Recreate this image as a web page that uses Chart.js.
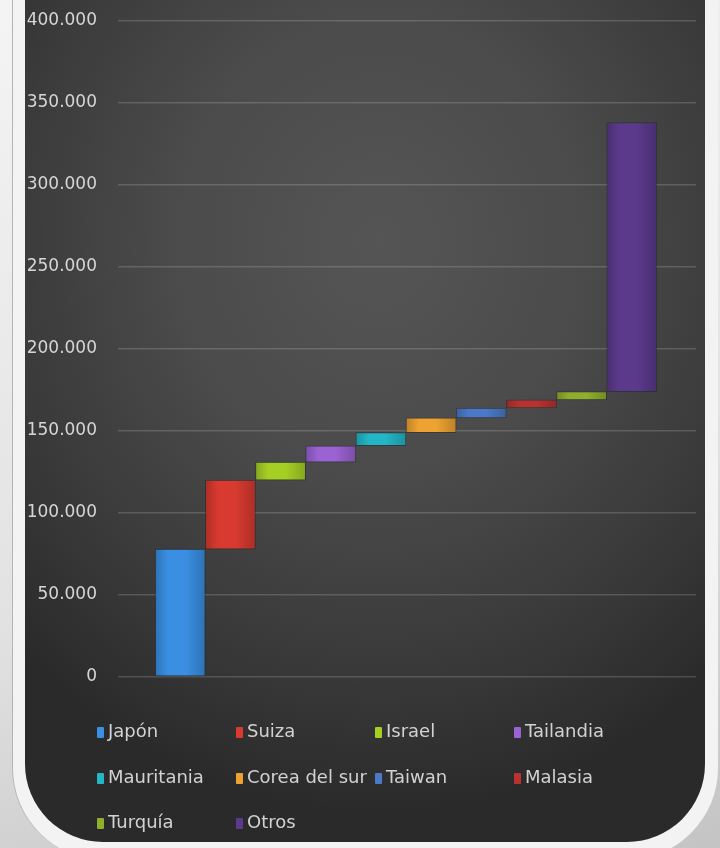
<!DOCTYPE html>
<html>
<head>
<meta charset="utf-8">
<script src="https://cdn.jsdelivr.net/npm/chart.js@4.4.1/dist/chart.umd.min.js"></script>
<style>
  html, body { margin: 0; padding: 0; }
  body {
    width: 720px; height: 848px; position: relative; overflow: hidden;
    background: linear-gradient(165deg, #f4f4f4 0%, #e2e2e2 60%, #c4c4c4 100%);
    font-family: "DejaVu Sans", sans-serif;
  }
  #marco {
    position: absolute; left: 12px; right: 2px; top: -40px; bottom: -12px;
    background: #f3f3f3;
    border-left: 1px solid #b4b4b4;
    border-radius: 0 0 92px 92px;
  }
  #panel {
    position: absolute; left: 25px; right: 15px; top: -40px; bottom: 6px;
    border-radius: 0 0 78px 78px;
    background: radial-gradient(ellipse 75% 65% at 52% 32%, #555 0%, #4b4b4b 40%, #393939 75%, #2a2a2a 100%);
  }
  #grafica { position: absolute; left: 0; top: 0; }
  #leyenda {
    position: absolute; left: 97px; top: 708px;
    display: grid; grid-template-columns: repeat(4, 139px); grid-auto-rows: 45.5px;
    align-items: center;
  }
  #leyenda div { white-space: nowrap; color: #d2d2d2; font-size: 18px; }
  #leyenda span.marca {
    display: inline-block; width: 7px; height: 11px; margin-right: 4px;
    vertical-align: -1px; border-radius: 1px;
  }
</style>
</head>
<body>
<div id="marco"></div>
<div id="panel"></div>
<canvas id="grafica" width="720" height="848"></canvas>
<div id="leyenda"></div>
<script>
(function() {

  const paises = ['Japón', 'Suiza', 'Israel', 'Tailandia', 'Mauritania', 'Corea del sur', 'Taiwan', 'Malasia', 'Turquía', 'Otros'];
  const valores = [78000, 42000, 11000, 10000, 8000, 9000, 6000, 5000, 5000, 164000];
  const colores = ['#3a8fe3', '#d83a2f', '#a6cf24', '#9a62d2', '#22b6c6', '#eea232', '#4a79c9', '#b8322f', '#8fae2e', '#5b3a8c'];
  const marcasY = [0, 50000, 100000, 150000, 200000, 250000, 300000, 350000, 400000];

  // cascada: cada barra empieza donde termina la anterior
  let acumulado = 0;
  const tramos = valores.map(v => {
    const t = [acumulado, acumulado + v];
    acumulado += v;
    return t;
  });

  function oscurecer(hex, f) {
    const n = parseInt(hex.slice(1), 16);
    const r = Math.round(((n >> 16) & 255) * f);
    const g = Math.round(((n >> 8) & 255) * f);
    const b = Math.round((n & 255) * f);
    return `rgb(${r},${g},${b})`;
  }

  // relleno con algo de brillo, como las barras de la original
  function relleno(i) {
    return context => {
      const { chart } = context;
      const x = chart.scales.x;
      if (!chart.chartArea || !x) return colores[i];
      const l = x.getPixelForValue(i - 0.5);
      const r = x.getPixelForValue(i + 0.5);
      const g = chart.ctx.createLinearGradient(l, 0, r, 0);
      g.addColorStop(0, oscurecer(colores[i], 0.8));
      g.addColorStop(0.25, colores[i]);
      g.addColorStop(0.6, colores[i]);
      g.addColorStop(1, oscurecer(colores[i], 0.8));
      return g;
    };
  }

  const ctx = document.querySelector('#grafica');
  const grafica = new Chart(ctx, {
    type: 'bar',
    data: {
      datasets: paises.map((pais, i) => ({
        label: pais,
        data: [{ x: i, y: tramos[i] }],
        backgroundColor: relleno(i),
        borderColor: 'rgba(20,20,20,0.35)',
        borderWidth: 1,
        borderSkipped: false,
        grouped: false,
        barPercentage: 1,
        categoryPercentage: 1
      }))
    },
    options: {
      responsive: false,
      animation: false,
      layout: { padding: { top: 21, right: 24, bottom: 171, left: 0 } },
      scales: {
        x: {
          type: 'linear',
          display: false,
          offset: false,
          min: -1.24,
          max: 10.28,
          ticks: { stepSize: 1, includeBounds: false },
          grid: { display: false }
        },
        y: {
          min: 0,
          max: 400000,
          border: { display: false },
          grid: { color: 'rgba(255,255,255,0.16)', lineWidth: 1.5, drawTicks: false },
          afterBuildTicks: scale => {
            scale.ticks = marcasY.map(v => ({ value: v }));
          },
          afterFit: scale => {
            scale.width = 118;
            scale.paddingTop = 0;
          },
          ticks: {
            padding: 21,
            color: '#d6d6d6',
            font: { family: 'DejaVu Sans', size: 17 },
            callback: v => v.toLocaleString('de-DE')
          }
        }
      },
      plugins: {
        legend: { display: false },
        tooltip: { enabled: false }
      }
    }
  });

  // leyenda en cuadricula de 4 columnas, como la original
  const leyenda = document.querySelector('#leyenda');
  grafica.options.plugins.legend.labels.generateLabels(grafica).forEach(item => {
    const fila = document.createElement('div');
    const marca = document.createElement('span');
    marca.className = 'marca';
    marca.style.background = colores[item.datasetIndex];
    fila.appendChild(marca);
    fila.appendChild(document.createTextNode(item.text));
    leyenda.appendChild(fila);
  });

})();
</script>
</body>
</html>
